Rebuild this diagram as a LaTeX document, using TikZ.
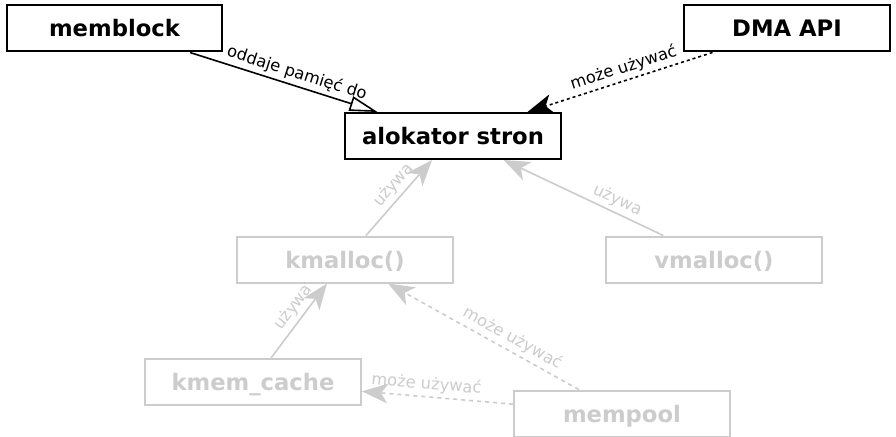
\documentclass[tikz,border=0pt]{standalone}
\usepackage{fontspec}
\setmainfont{DejaVu Sans}
\usetikzlibrary{arrows.meta}
\definecolor{lg}{RGB}{204,204,204}
\begin{document}
\begin{tikzpicture}[x=1pt,y=-1pt,
  box/.style={draw, line width=2pt, rectangle, minimum width=216pt, minimum height=46pt, inner sep=0pt, text height=17pt, text depth=0pt, fill=white, font=\fontsize{22.7}{27}\selectfont\bfseries},
  blackbox/.style={box, draw=black, text=black},
  graybox/.style={box, draw=lg, text=lg},
  lbl/.style={font=\fontsize{16.3}{19}\selectfont, sloped, above, inner sep=3.5pt},
  bedge/.style={line width=1.6pt, draw=black},
  gedge/.style={line width=1.6pt, draw=lg},
  tipS/.style={-{Stealth[length=26pt,width=20pt,inset=7pt]}},
  dashb/.style={dash pattern=on 3pt off 3pt},
  dashg/.style={dash pattern=on 4pt off 4pt},
]
\fill[white] (0,0) rectangle (896,436);
\useasboundingbox (0,0) rectangle (896,436);
\clip (0,0) rectangle (896,436);

\node[blackbox, minimum width=215pt] (memblock) at (114.5,28.5) {memblock};
\node[blackbox, minimum width=206pt] (dma) at (787,28.5) {DMA API};
\node[blackbox] (alok) at (453,136) {alokator stron};
\node[graybox] (kmalloc) at (345,259.5) {kmalloc()};
\node[graybox] (vmalloc) at (714,259.5) {vmalloc()};
\node[graybox] (kmem) at (253,382) {kmem\_cache};
\node[graybox] (mempool) at (622,413.5) {mempool};

\draw[bedge, -{Triangle[open, length=28pt, width=15pt, fill=white]}] (memblock) -- node[lbl, pos=0.55, text=black] {oddaje pamięć do} (alok);
\draw[bedge, dashb, tipS] (dma) -- node[lbl, pos=0.46, text=black] {może używać} (alok);

\draw[gedge, tipS] (kmalloc) -- node[lbl, pos=0.56, text=lg] {używa} (alok);
\draw[gedge, tipS] (vmalloc) -- node[lbl, pos=0.32, text=lg] {używa} (alok);
\draw[gedge, tipS] (kmem) -- node[lbl, pos=0.58, text=lg] {używa} (kmalloc);
\draw[gedge, dashg, tipS] (mempool) -- node[lbl, pos=0.38, text=lg] {może używać} (kmalloc);
\draw[gedge, dashg, tipS] (mempool) -- node[lbl, pos=0.58, text=lg] {może używać} (kmem);
\end{tikzpicture}
\end{document}
